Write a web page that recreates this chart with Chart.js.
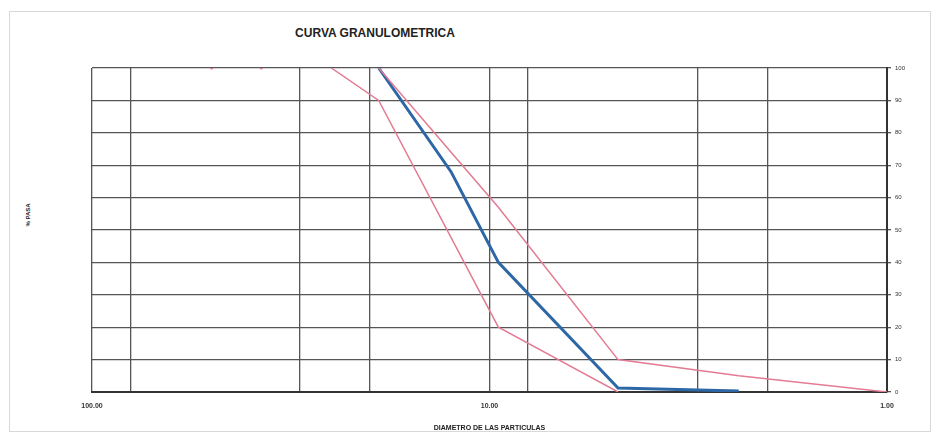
<!DOCTYPE html>
<html>
<head>
<meta charset="utf-8">
<script src="https://cdn.jsdelivr.net/npm/chart.js@4/dist/chart.umd.min.js"></script>
<style>
  body { margin: 0; background: #fff; }
  #wrap { position: relative; width: 939px; height: 436px; }
  #frame { position: absolute; left: 9px; top: 11px; width: 922px; height: 421px; border: 1px solid #d8d8d8; box-sizing: border-box; }
  #title { position: absolute; left: 375px; top: 26px; transform: translateX(-50%); font: bold 12px "Liberation Sans", Arial, sans-serif; color: #222; white-space: nowrap; }
  #ytitle { position: absolute; left: 28px; top: 215px; transform: translate(-50%, -50%) rotate(-90deg); font: bold 6px "Liberation Sans", Arial, sans-serif; color: #222; white-space: nowrap; }
  canvas { position: absolute; left: 0; top: 0; }
</style>
</head>
<body>
<div id="wrap">
  <div id="frame"></div>
  <div id="title">CURVA GRANULOMETRICA</div>
  <div id="ytitle">% PASA</div>
  <canvas id="c" width="939" height="436"></canvas>
</div>
<script>
// abertura (mm) y % que pasa
const sieveSizes = [50, 37.5, 25, 19, 12.5, 9.5, 4.75, 2.36, 1];
const muestra    = [100, 100, 100, 100, 68, 40, 1.2, 0.3, null];
const limiteSup  = [100, 100, 100, 100, null, 57, 10, 5, 0];
const limiteInf  = [null, null, 100, 90, null, 20, 0, null, null];

// lineas verticales de la grilla y etiquetas
const xGrid = [100, 80, 30, 20, 10, 8, 3, 2, 1];
const xLabeled = [100, 10, 1];
const yTicks = [0, 10, 20, 30, 40, 50, 60, 70, 80, 90, 100];

const rojo = '#e37b92';
const azul = '#2e67a6';

function toPoints(vals) {
    const pts = [];
    for (let i = 0; i < sieveSizes.length; i++) {
        if (vals[i] !== null) pts.push({ x: sieveSizes[i], y: vals[i] });
    }
    return pts;
}

// el tramo plano en 100% queda tapado por el borde del grafico
function tramo(color) {
    return (ctx) => (ctx.p0.parsed.y === 100 && ctx.p1.parsed.y === 100) ? 'rgba(0,0,0,0)' : color;
}

const font = { family: "'Liberation Sans', Arial, sans-serif", size: 7, weight: 'bold' };

new Chart(document.getElementById('c').getContext('2d'), {
    type: 'line',
    data: {
        datasets: [
            { label: 'Limite superior', data: toPoints(limiteSup), borderColor: rojo, borderWidth: 1.5,
              segment: { borderColor: tramo(rojo) },
              pointRadius: [1.5, 1.5, 0, 0, 0, 0, 0, 0], pointBackgroundColor: rojo, pointBorderWidth: 0, tension: 0 },
            { label: 'Limite inferior', data: toPoints(limiteInf), borderColor: rojo, borderWidth: 1.5,
              pointRadius: 0, tension: 0 },
            { label: 'Muestra', data: toPoints(muestra), borderColor: azul, borderWidth: 3,
              segment: { borderColor: tramo(azul) },
              pointRadius: 0, tension: 0 }
        ]
    },
    options: {
        responsive: false,
        animation: false,
        layout: { padding: { left: 92, top: 68, right: 0, bottom: 0 } },
        plugins: { legend: { display: false }, tooltip: { enabled: false } },
        scales: {
            x: {
                type: 'logarithmic',
                reverse: true,
                min: 1,
                max: 100,
                afterBuildTicks: (scale) => { scale.ticks = xGrid.map(v => ({ value: v })); },
                afterFit: (scale) => { scale.height = 44; },
                ticks: {
                    autoSkip: false,
                    maxRotation: 0,
                    padding: 10,
                    color: '#333',
                    font: font,
                    callback: (v) => xLabeled.includes(v) ? v.toFixed(2) : ''
                },
                grid: { color: '#555', lineWidth: 1.3, drawTicks: false },
                border: { color: '#333', width: 2 },
                title: { display: true, text: 'DIAMETRO DE LAS PARTICULAS', color: '#222', font: font, padding: { top: 0, bottom: 4 } }
            },
            y: {
                position: 'right',
                min: 0,
                max: 100,
                afterBuildTicks: (scale) => { scale.ticks = yTicks.map(v => ({ value: v })); },
                afterFit: (scale) => { scale.width = 52; },
                ticks: { color: '#333', font: { family: "'Liberation Sans', Arial, sans-serif", size: 6 }, padding: 4 },
                grid: { color: '#555', lineWidth: 1.3, tickLength: 4 },
                border: { color: '#333', width: 2 }
            }
        }
    }
});
</script>
</body>
</html>
